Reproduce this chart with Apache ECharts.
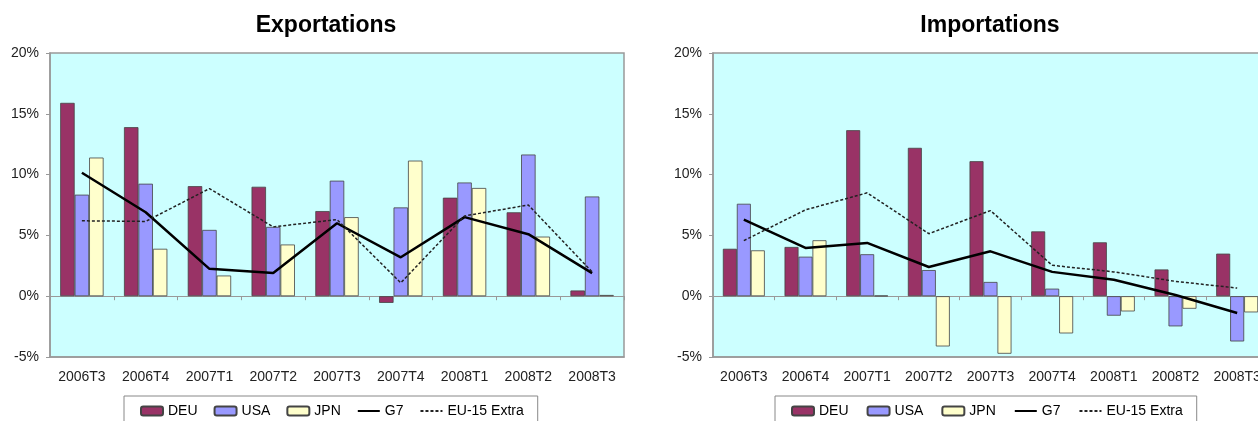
<!DOCTYPE html>
<html>
<head>
<meta charset="utf-8">
<script src="https://cdn.jsdelivr.net/npm/echarts@6/dist/echarts.min.js"></script>
<style>
html,body{margin:0;padding:0;background:#fff;overflow:hidden;width:1258px;height:421px;}
#c{width:1280px;height:421px;}
</style>
</head>
<body>
<div id="c"></div>
<script>
var categories = ['2006T3','2006T4','2007T1','2007T2','2007T3','2007T4','2008T1','2008T2','2008T3'];
var yTicks = { min: -5, max: 20, interval: 5 };

var expDEU = [15.9, 13.9, 9.05, 9.0, 7.0, -0.55, 8.1, 6.9, 0.47];
var expUSA = [8.35, 9.25, 5.45, 5.7, 9.5, 7.3, 9.35, 11.65, 8.2];
var expJPN = [11.4, 3.9, 1.7, 4.25, 6.5, 11.15, 8.9, 4.9, 0.1];
var expG7  = [10.15, 6.9, 2.25, 1.9, 6.0, 3.2, 6.5, 5.1, 1.9];
var expEU  = [6.2, 6.15, 8.85, 5.7, 6.3, 1.1, 6.6, 7.5, 2.0];

var impDEU = [3.9, 4.05, 13.65, 12.2, 11.1, 5.33, 4.43, 2.2, 3.5];
var impUSA = [7.6, 3.25, 3.45, 2.15, 1.17, 0.62, -1.6, -2.48, -3.72];
var impJPN = [3.77, 4.6, 0.05, -4.13, -4.73, -3.06, -1.25, -1.03, -1.33];
var impG7  = [6.3, 3.97, 4.38, 2.4, 3.69, 2.0, 1.36, 0.1, -1.38];
var impEU  = [4.57, 7.1, 8.5, 5.14, 7.04, 2.54, 2.0, 1.22, 0.67];

var names = ['DEU','USA','JPN','G7','EU-15 Extra'];
var FONT = 'Liberation Sans, Arial, sans-serif';
var colDEU = '#993366', colUSA = '#9999FF', colJPN = '#FFFFCC';

function xAxes(gi) {
  return [
    { type:'category', gridIndex:gi, data:categories, position:'bottom',
      axisLine:{ onZero:false, lineStyle:{ color:'#999', width:1.5 } },
      axisTick:{ show:false },
      axisLabel:{ color:'#222', fontSize:14, fontFamily:FONT, margin:13, interval:0 } },
    { type:'category', gridIndex:gi, data:categories, position:'top',
      axisLine:{ onZero:true, lineStyle:{ color:'#999', width:1.2 } },
      axisTick:{ show:true, inside:true, length:4, lineStyle:{ color:'#999' } },
      axisLabel:{ show:false } }
  ];
}
function yAxis(gi) {
  return { type:'value', gridIndex:gi, min:yTicks.min, max:yTicks.max, interval:yTicks.interval,
    axisLine:{ show:true, lineStyle:{ color:'#999', width:1.5 } },
    axisTick:{ show:true, length:4, lineStyle:{ color:'#999' } },
    splitLine:{ show:false },
    axisLabel:{ color:'#222', fontSize:14, fontFamily:FONT, margin:11, formatter:'{value}%' } };
}
function seriesFor(xi, yi, d, u, j, g, e) {
  var bar = function(name, data, color){
    return { name:name, type:'bar', xAxisIndex:xi, yAxisIndex:yi, data:data,
      barGap:'0%', barCategoryGap:'32%',
      itemStyle:{ color:color, borderColor:'#444', borderWidth:0.8 } };
  };
  return [
    bar('DEU', d, colDEU), bar('USA', u, colUSA), bar('JPN', j, colJPN),
    { name:'G7', type:'line', xAxisIndex:xi, yAxisIndex:yi, data:g, symbol:'none',
      lineStyle:{ color:'#000', width:2.5 }, itemStyle:{ color:'#000' }, z:5 },
    { name:'EU-15 Extra', type:'line', xAxisIndex:xi, yAxisIndex:yi, data:e, symbol:'none',
      lineStyle:{ color:'#222', width:1.5, type:[3,2] }, itemStyle:{ color:'#222' }, z:5 }
  ];
}
function legend(left, gap) {
  return { left:left, top:396, orient:'horizontal',
    data:[
      { name:'DEU' }, { name:'USA' }, { name:'JPN' },
      { name:'G7', itemStyle:{ opacity:0 } },
      { name:'EU-15 Extra', itemStyle:{ opacity:0 } }
    ],
    itemWidth:22, itemHeight:9, itemGap:gap,
    backgroundColor:'#fff', borderColor:'#888', borderWidth:1,
    padding:[8, 14, 12, 16],
    textStyle:{ color:'#000', fontSize:14, fontFamily:FONT } };
}

var chart = echarts.init(document.getElementById('c'));
chart.setOption({
  animation:false,
  backgroundColor:'#fff',
  graphic:[
    { type:'text', x:326, y:26, style:{ text:'Exportations', fontSize:23, fontWeight:'bold', fontFamily:FONT, fill:'#000', textAlign:'center', textVerticalAlign:'middle' } },
    { type:'text', x:990, y:26, style:{ text:'Importations', fontSize:23, fontWeight:'bold', fontFamily:FONT, fill:'#000', textAlign:'center', textVerticalAlign:'middle' } }
  ],
  grid:[
    { left:50, top:53, width:574, height:304, show:true, backgroundColor:'#CCFFFF', borderColor:'#999', borderWidth:1.5 },
    { left:713, top:53, width:555, height:304, show:true, backgroundColor:'#CCFFFF', borderColor:'#999', borderWidth:1.5 }
  ],
  xAxis: xAxes(0).concat(xAxes(1)),
  yAxis: [yAxis(0), yAxis(1)],
  legend:[ legend(124, 16), legend(775, 18) ],
  series: seriesFor(0, 0, expDEU, expUSA, expJPN, expG7, expEU)
    .concat(seriesFor(2, 1, impDEU, impUSA, impJPN, impG7, impEU))
});
</script>
</body>
</html>
